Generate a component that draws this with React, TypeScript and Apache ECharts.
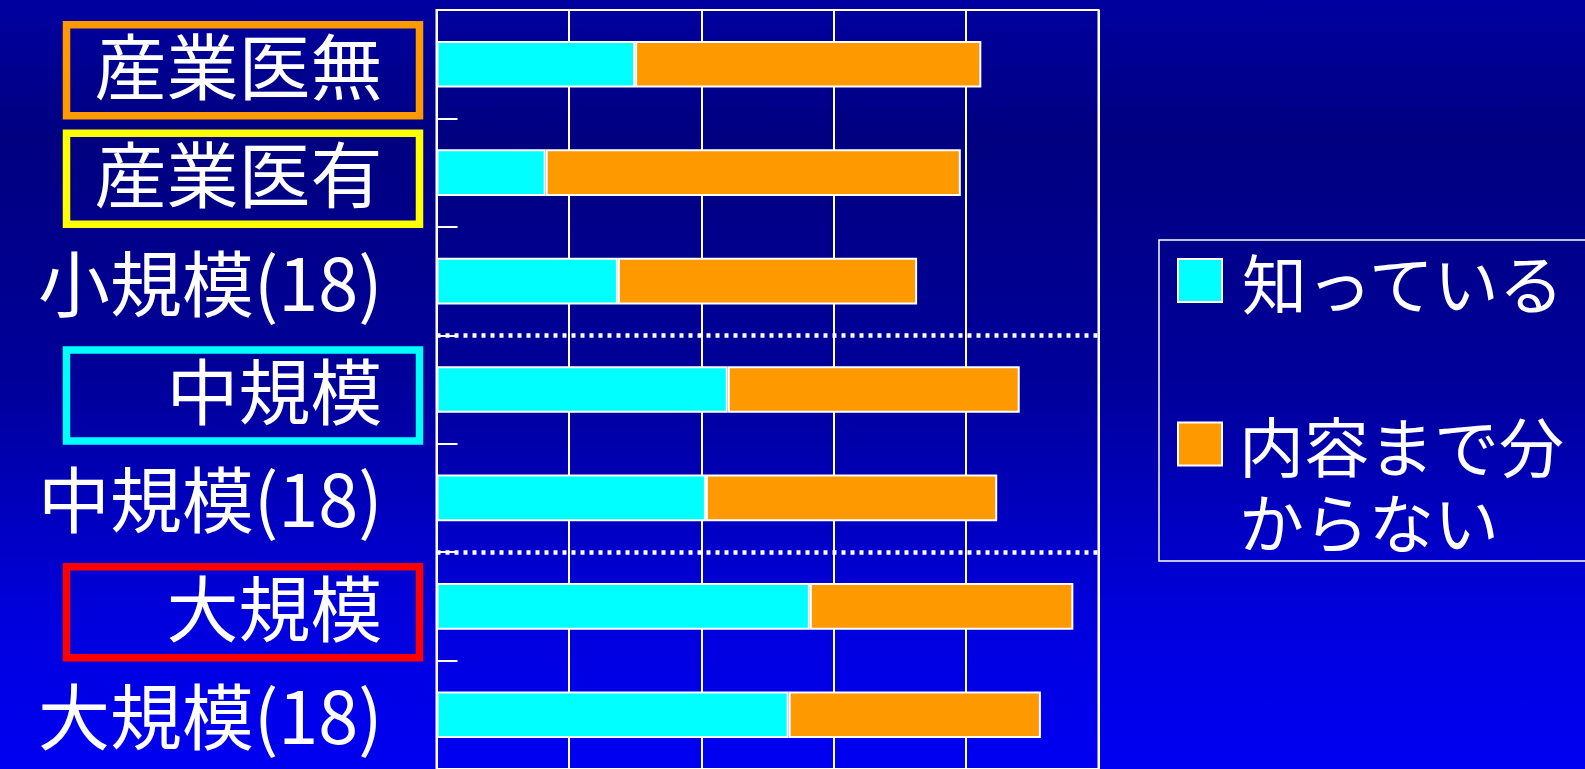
import React, { useEffect, useRef } from 'react';
import * as echarts from 'echarts';

const categories = ['産業医無', '産業医有', '小規模(18)', '中規模', '中規模(18)', '大規模', '大規模(18)'];
const knowValues = [30.0, 16.5, 27.4, 44.0, 40.7, 56.4, 53.2];
const unknownValues = [52.3, 62.7, 45.2, 44.1, 44.0, 39.8, 38.1];
const seriesNames = ['知っている', '内容まで分からない'];
const seriesColors = ['#00FFFF', '#FF9900'];
const boxedLabels: Record<string, string> = {
  '産業医無': 'o',
  '産業医有': 'y',
  '中規模': 'c',
  '大規模': 'r',
};
const dividerPositions = [3, 5];
const xMin = 0;
const xMax = 100;
const xInterval = 20;

const FONT = '"Noto Sans CJK JP", "Noto Sans", sans-serif';

export default function App() {
  const ref = useRef<HTMLDivElement>(null);

  useEffect(() => {
    if (!ref.current) return;
    const chart = echarts.init(ref.current, null, { renderer: 'svg' });

    const baseRich = {
      fontSize: 72,
      color: '#ffffff',
      fontFamily: FONT,
      width: 316,
      height: 75,
      align: 'right',
      padding: [0, 37, 16, 0],
    };
    const rich: any = {
      p: { ...baseRich },
      o: { ...baseRich, borderColor: '#FF9900', borderWidth: 7.5 },
      y: { ...baseRich, borderColor: '#FFFF00', borderWidth: 7.5 },
      c: { ...baseRich, borderColor: '#00FFFF', borderWidth: 7.5 },
      r: { ...baseRich, borderColor: '#FF0000', borderWidth: 7.5 },
    };

    const option: any = {
      animation: false,
      backgroundColor: 'transparent',
      grid: {
        left: 436.5,
        right: 486.5,
        top: 10,
        bottom: -3,
        show: true,
        borderColor: '#ffffff',
        borderWidth: 2,
        backgroundColor: 'transparent',
      },
      xAxis: {
        type: 'value',
        min: xMin,
        max: xMax,
        interval: xInterval,
        position: 'top',
        axisLabel: { show: false },
        axisTick: { show: false },
        axisLine: { show: false },
        splitLine: { show: true, lineStyle: { color: '#ffffff', width: 2 } },
      },
      yAxis: [
        {
          type: 'category',
          data: categories,
          inverse: true,
          axisLine: { show: true, lineStyle: { color: '#ffffff', width: 2 } },
          axisTick: { show: true, inside: true, length: 21, lineStyle: { color: '#ffffff', width: 2 } },
          axisLabel: {
            interval: 0,
            margin: 17,
            padding: [12, 0, 0, 0],
            formatter: (v: string) => `{${boxedLabels[v] || 'p'}|${v}}`,
            rich,
          },
          splitLine: { show: false },
        },
        {
          type: 'value',
          min: 0,
          max: categories.length,
          inverse: true,
          show: false,
        },
      ],
      legend: [
        {
          data: [seriesNames[0]],
          left: 1172,
          top: 243,
          icon: 'rect',
          itemWidth: 44,
          itemHeight: 43,
          textStyle: { color: '#ffffff', fontSize: 65, fontFamily: FONT, padding: [0, 0, 10, 15] },
        },
        {
          data: [seriesNames[1]],
          left: 1172,
          top: 317,
          icon: 'rect',
          itemWidth: 44,
          itemHeight: 43,
          formatter: (name: string) => (name === '内容まで分からない' ? '\n内容まで分\nからない' : name),
          textStyle: {
            color: '#ffffff',
            fontSize: 65,
            lineHeight: 76,
            fontFamily: FONT,
            padding: [0, 0, 16, 12],
          },
        },
      ],
      graphic: [
        {
          type: 'rect',
          shape: { x: 1159, y: 240, width: 600, height: 321 },
          style: { fill: 'none', stroke: '#ffffff', lineWidth: 1.5 },
          silent: true,
        },
      ],
      series: [
        {
          name: seriesNames[0],
          type: 'bar',
          stack: 'total',
          barWidth: '43%',
          data: knowValues,
          itemStyle: { color: seriesColors[0], borderColor: '#ffffff', borderWidth: 2 },
        },
        {
          name: seriesNames[1],
          type: 'bar',
          stack: 'total',
          barWidth: '43%',
          data: unknownValues,
          itemStyle: { color: seriesColors[1], borderColor: '#ffffff', borderWidth: 2 },
        },
        {
          name: 'divider',
          type: 'line',
          yAxisIndex: 1,
          data: [],
          silent: true,
          markLine: {
            silent: true,
            symbol: ['none', 'none'],
            label: { show: false },
            lineStyle: { color: '#ffffff', type: [4, 5], width: 4.5 },
            data: dividerPositions.map((v) => ({ yAxis: v })),
          },
        },
      ],
    };

    chart.setOption(option);
    return () => chart.dispose();
  }, []);

  return (
    <div
      ref={ref}
      style={{
        position: 'fixed',
        left: 0,
        top: 0,
        width: 1585,
        height: 769,
        background:
          'linear-gradient(to bottom, #0000A0 0%, #000080 18%, #00009A 50%, #0000DC 80%, #0000F2 100%)',
      }}
    />
  );
}
